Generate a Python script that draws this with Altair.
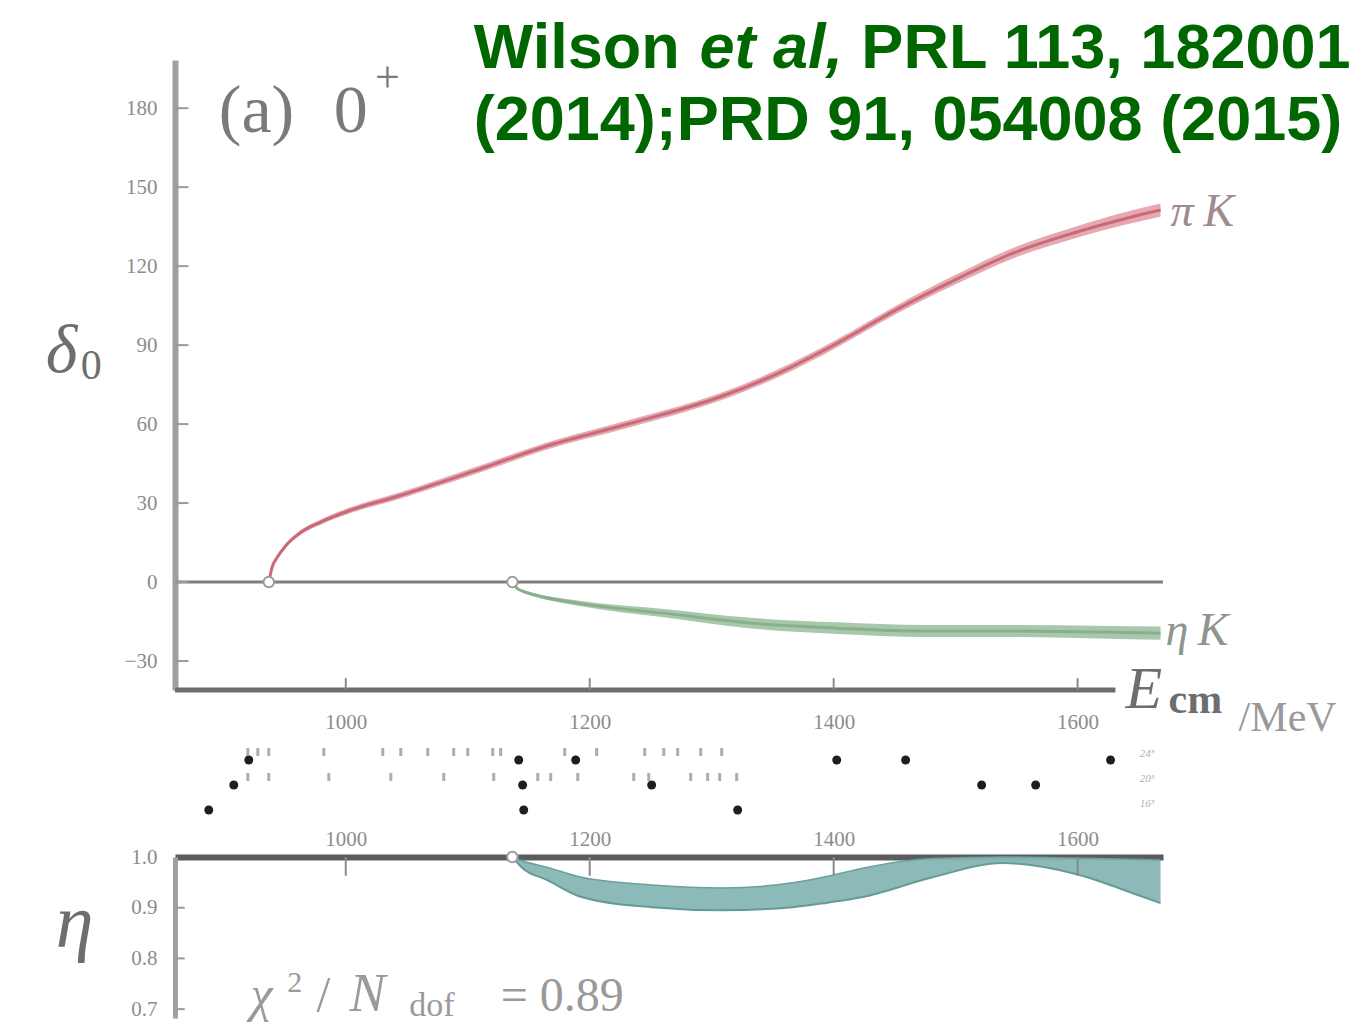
import altair as alt
import pandas as pd

# ---------------- data ----------------
# (a) 0+ : pi K phase shift band (degrees) vs E_cm (MeV)
pik_E = [936.9, 939.5, 944.0, 950.8, 962.0, 979.5, 1004.0, 1042.6, 1114.8, 1162.3, 1234.4,
         1306.6, 1354.9, 1403.3, 1450.8, 1499.2, 1547.5, 1595.9, 1643.4, 1668.0]
pik_delta = [0.0, 5.5, 9.5, 13.8, 18.5, 22.8, 27.3, 32.6, 43.7, 51.3, 60.4,
             70.3, 79.4, 90.8, 103.3, 114.7, 125.0, 132.5, 138.6, 141.3]
pik_err = [0.0, 0.5, 0.7, 0.8, 0.9, 1.0, 1.1, 1.2, 1.3, 1.3, 1.4, 1.4, 1.5, 1.5, 1.6, 1.8,
           2.0, 2.2, 2.4, 2.5]

# eta K phase shift band
etak_E = [1136.6, 1140.0, 1146.0, 1154.1, 1190.2, 1260.7, 1332.0, 1403.3, 1474.6, 1545.1,
          1616.4, 1668.0]
etak_delta = [0.0, -2.2, -3.6, -4.8, -8.0, -11.8, -15.6, -17.5, -18.6, -18.6, -19.0, -19.4]
etak_err = [0.0, 0.3, 0.5, 0.6, 1.0, 1.6, 2.0, 2.2, 2.3, 2.3, 2.4, 2.5]

# thresholds (pi K, eta K)
threshold_E = [936.9, 1136.6]

# inelasticity eta band
eta_E = [1136.6, 1145.0, 1164.8, 1193.4, 1250.8, 1309.0, 1366.4, 1395.0, 1423.8, 1481.1,
         1538.5, 1595.9, 1654.0, 1668.0]
eta_lo = [1.0, 0.978, 0.955, 0.921, 0.901, 0.895, 0.901, 0.910, 0.921, 0.960, 0.988, 0.968,
          0.921, 0.909]
eta_hi = [1.0, 0.992, 0.980, 0.960, 0.945, 0.939, 0.949, 0.962, 0.978, 0.997, 1.000, 0.998,
          0.995, 0.994]

# lattice energy levels used in the fit, one row per volume
volumes = ["24³", "20³", "16³"]
levels_24 = [920.5, 1141.8, 1188.5, 1402.5, 1459.0, 1627.0]
levels_20 = [908.2, 1145.0, 1250.8, 1521.3, 1565.6]
levels_16 = [887.7, 1145.9, 1321.3]
# non-interacting energies (small marks)
free_24 = [919.7, 927.9, 936.9, 982.0, 1030.3, 1045.1, 1067.2, 1088.5, 1100.0, 1120.5,
           1127.0, 1179.5, 1205.7, 1245.1, 1260.7, 1272.1, 1291.0, 1308.2]
free_20 = [919.7, 936.9, 986.1, 1036.9, 1080.3, 1121.3, 1157.4, 1168.0, 1190.2, 1236.1,
           1248.4, 1282.8, 1296.7, 1306.6, 1320.5]

x_ticks = [1000, 1200, 1400, 1600]
delta_ticks = [-30, 0, 30, 60, 90, 120, 150, 180]
eta_ticks = [0.7, 0.8, 0.9, 1.0]

# ---------------- layout ----------------
X_DOM = [860, 1670]
D_DOM = [-41, 198.3]
M_DOM = [-0.88, 5.8]
H_DOM = [0.6825, 1.0]
W, H_TOP, H_MID, H_BOT = 988, 630, 167, 161
X_LINE_END = 1631

SERIF = "Liberation Serif"
SANS = "Liberation Sans"
GREEN = "#006600"
LABEL_GRAY = "#8c8c8c"


def xscale():
    return alt.Scale(domain=X_DOM, nice=False, zero=False)


lab = dict(labelFont=SERIF, labelFontSize=21, labelColor=LABEL_GRAY, grid=False, title=None)
ax_top_x = alt.Axis(values=x_ticks, orient="bottom", domain=False, ticks=False,
                    labelPadding=21, format="d", **lab)
ax_top_y = alt.Axis(values=delta_ticks, orient="left", domain=True, domainColor="#a0a0a0",
                    domainWidth=6, ticks=False, labelPadding=18, format="d", **lab)
ax_bot_x = alt.Axis(values=x_ticks, orient="top", domain=True, domainColor="#5c5c5c",
                    domainWidth=6, ticks=False, labelPadding=8, format="d", **lab)
ax_bot_y = alt.Axis(values=eta_ticks, orient="left", domain=True, domainColor="#a0a0a0",
                    domainWidth=5, ticks=False, labelPadding=18, format=".1f", **lab)

D_SCALE = alt.Scale(domain=D_DOM, nice=False, zero=False)
XT = alt.X("E:Q", scale=xscale(), axis=ax_top_x)
YT = alt.Y("v:Q", scale=D_SCALE, axis=ax_top_y)
XM = alt.X("E:Q", scale=xscale(), axis=None)
YM = alt.Y("v:Q", scale=alt.Scale(domain=M_DOM, nice=False, zero=False), axis=None)
XB = alt.X("E:Q", scale=xscale(), axis=ax_bot_x)
YB = alt.Y("v:Q", scale=alt.Scale(domain=H_DOM, nice=False, zero=False), axis=ax_bot_y)


def texts(rows, X, Y, **kw):
    df = pd.DataFrame(rows, columns=["E", "v", "t"])
    base = dict(align="left", baseline="alphabetic")
    base.update(kw)
    return alt.Chart(df).mark_text(**base).encode(x=X, y=Y, text="t:N")


# ---------------- top panel ----------------
pik_df = pd.DataFrame({"E": pik_E, "c": pik_delta,
                       "v": [d - e for d, e in zip(pik_delta, pik_err)],
                       "v2": [d + e for d, e in zip(pik_delta, pik_err)]})
etak_df = pd.DataFrame({"E": etak_E, "c": etak_delta,
                        "v": [d - e for d, e in zip(etak_delta, etak_err)],
                        "v2": [d + e for d, e in zip(etak_delta, etak_err)]})

zero_line = alt.Chart(pd.DataFrame({"v": [0]})).mark_rule(
    color="#857d7d", strokeWidth=3).encode(y=YT)
pik_band = alt.Chart(pik_df).mark_area(color="#e6a9b1", opacity=1, interpolate="monotone").encode(
    x=XT, y=YT, y2="v2:Q")
pik_line = alt.Chart(pik_df).mark_line(color="#c96a77", strokeWidth=3, interpolate="monotone").encode(
    x=XT, y=alt.Y("c:Q", scale=D_SCALE, axis=ax_top_y))
etak_band = alt.Chart(etak_df).mark_area(color="#a9c8ab", opacity=1, interpolate="monotone").encode(
    x=XT, y=YT, y2="v2:Q")
etak_line = alt.Chart(etak_df).mark_line(color="#88b08d", strokeWidth=3, interpolate="monotone").encode(
    x=XT, y=alt.Y("c:Q", scale=D_SCALE, axis=ax_top_y))
thr = alt.Chart(pd.DataFrame({"E": threshold_E, "v": [0, 0]})).mark_circle(
    fill="white", stroke="#9c9c9c", strokeWidth=2, size=110, opacity=1).encode(x=XT, y=YT)

xline = alt.Chart(pd.DataFrame({"E": [X_DOM[0]], "E2": [X_LINE_END], "v": [D_DOM[0]]})).mark_rule(
    color="#6e6e6e", strokeWidth=5).encode(x=XT, x2="E2:Q", y=YT)
ytick_df = pd.DataFrame({"v": delta_ticks, "E": [X_DOM[0]] * len(delta_ticks),
                         "E2": [X_DOM[0] + 11] * len(delta_ticks)})
yticks_top = alt.Chart(ytick_df).mark_rule(color="#9a9a9a", strokeWidth=2).encode(
    x=XT, x2="E2:Q", y=YT)
xtick_df = pd.DataFrame({"E": x_ticks, "v": [D_DOM[0]] * 4, "v2": [D_DOM[0] + 4.5] * 4})
xticks_top = alt.Chart(xtick_df).mark_rule(color="#8a8a8a", strokeWidth=2).encode(
    x=XT, y=YT, y2="v2:Q")

title1a = texts([(1104.9, 195.2, "Wilson")], XT, YT, font=SANS, fontSize=63,
                fontWeight="bold", color=GREEN)
title1b = texts([(1290.0, 195.2, "et al,")], XT, YT, font=SANS, fontSize=63,
                fontWeight="bold", fontStyle="italic", color=GREEN)
title1c = texts([(1823.8, 195.2, "PRL 113, 182001")], XT, YT, font=SANS, fontSize=63,
                fontWeight="bold", color=GREEN, align="right")
title2 = texts([(1104.9, 167.9, "(2014);PRD 91, 054008 (2015)")], XT, YT, font=SANS,
               fontSize=63, fontWeight="bold", color=GREEN)

panel_a = texts([(895.9, 170.9, "(a)"), (990.2, 170.9, "0")], XT, YT, font=SERIF,
                fontSize=68, color="#7a7a7a")
panel_plus = texts([(1024.0, 186.0, "+")], XT, YT, font=SERIF, fontSize=44, color="#7a7a7a")
delta_lab = texts([(754.1, 79.8, "δ")], XT, YT, font=SERIF, fontSize=68,
                  fontStyle="italic", color="#6e6e6e")
delta_sub = texts([(782.8, 77.0, "0")], XT, YT, font=SERIF, fontSize=42, color="#6e6e6e")
pik_lab = texts([(1676.2, 135.2, "π"), (1703.3, 135.2, "K")], XT, YT, font=SERIF,
                fontSize=46, fontStyle="italic", color="#a08a8d")
etak_lab = texts([(1672.1, -23.9, "η"), (1698.4, -23.9, "K")], XT, YT, font=SERIF,
                 fontSize=46, fontStyle="italic", color="#8c968d")
ecm_E = texts([(1639.3, -47.9, "E")], XT, YT, font=SERIF, fontSize=60,
              fontStyle="italic", color="#6e6e6e")
ecm_cm = texts([(1674.6, -49.8, "cm")], XT, YT, font=SERIF, fontSize=42,
               fontWeight="bold", color="#6e6e6e")
ecm_unit = texts([(1732.0, -56.6, "/MeV")], XT, YT, font=SERIF, fontSize=42, color="#9a9a9a")

top = alt.layer(
    zero_line, pik_band, pik_line, etak_band, etak_line, thr, xline, yticks_top, xticks_top,
    title1a, title1b, title1c, title2, panel_a, panel_plus, delta_lab, delta_sub,
    pik_lab, etak_lab, ecm_E, ecm_cm, ecm_unit,
).properties(width=W, height=H_TOP)

# ---------------- middle strip: energy levels ----------------
row_y = [3.0, 2.0, 1.0]
lev_rows = []
for y, lv in zip(row_y, [levels_24, levels_20, levels_16]):
    lev_rows += [{"E": e, "v": y} for e in lv]
free_rows = [{"E": e, "v": row_y[0] + 0.32} for e in free_24] + \
            [{"E": e, "v": row_y[1] + 0.32} for e in free_20]

dots = alt.Chart(pd.DataFrame(lev_rows)).mark_circle(
    color="#1e1e1e", size=80, opacity=1).encode(x=XM, y=YM)
free_marks = alt.Chart(pd.DataFrame(free_rows)).mark_tick(
    orient="vertical", size=8, thickness=3, color="#8a8a8a").encode(x=XM, y=YM)
vol_lab = texts([(1651.0, y + 0.12, t) for y, t in zip(row_y, volumes)], XM, YM,
                font=SERIF, fontSize=11, fontStyle="italic", color="#b0b0b0")

middle = alt.layer(dots, free_marks, vol_lab).properties(width=W, height=H_MID)

# ---------------- bottom panel: inelasticity ----------------
eta_df = pd.DataFrame({"E": eta_E, "v": eta_lo, "v2": eta_hi})
eta_band = alt.Chart(eta_df).mark_area(color="#86b6b4", opacity=0.95, interpolate="monotone").encode(
    x=XB, y=YB, y2="v2:Q")
eta_lo_line = alt.Chart(eta_df).mark_line(color="#649b98", strokeWidth=2, interpolate="monotone").encode(
    x=XB, y=YB)
eta_hi_line = alt.Chart(pd.DataFrame({"E": eta_E, "v": eta_hi})).mark_line(
    color="#6c9f9d", strokeWidth=1.5, interpolate="monotone").encode(x=XB, y=YB)
thr_b = alt.Chart(pd.DataFrame({"E": [threshold_E[1]], "v": [1.0]})).mark_circle(
    fill="white", stroke="#9c9c9c", strokeWidth=2, size=110, opacity=1).encode(x=XB, y=YB)
xt_b = pd.DataFrame({"E": x_ticks, "v": [1.0] * 4, "v2": [0.963] * 4})
xticks_bot = alt.Chart(xt_b).mark_rule(color="#8a8a8a", strokeWidth=2).encode(
    x=XB, y=YB, y2="v2:Q")
yt_b = pd.DataFrame({"v": eta_ticks[:3], "E": [X_DOM[0]] * 3, "E2": [X_DOM[0] + 8] * 3})
yticks_bot = alt.Chart(yt_b).mark_rule(color="#9a9a9a", strokeWidth=2).encode(
    x=XB, x2="E2:Q", y=YB)

eta_lab = texts([(762.3, 0.8225, "η")], XB, YB, font=SERIF, fontSize=76,
                fontStyle="italic", color="#6e6e6e")
chi_a = texts([(922.0, 0.6963, "χ")], XB, YB, font=SERIF, fontSize=50,
              fontStyle="italic", color="#9a9a9a")
chi_b = texts([(952.0, 0.7337, "2")], XB, YB, font=SERIF, fontSize=30, color="#9a9a9a")
chi_c = texts([(976.0, 0.6963, "/")], XB, YB, font=SERIF, fontSize=50, color="#9a9a9a")
chi_d = texts([(1003.0, 0.6963, "N")], XB, YB, font=SERIF, fontSize=54,
              fontStyle="italic", color="#9a9a9a")
chi_e = texts([(1052.0, 0.6870, "dof")], XB, YB, font=SERIF, fontSize=34, color="#9a9a9a")
chi_f = texts([(1127.0, 0.6963, "= 0.89")], XB, YB, font=SERIF, fontSize=48, color="#9a9a9a")

bottom = alt.layer(
    eta_band, eta_lo_line, eta_hi_line, xticks_bot, yticks_bot, thr_b,
    eta_lab, chi_a, chi_b, chi_c, chi_d, chi_e, chi_f,
).properties(width=W, height=H_BOT)

chart = alt.vconcat(top, middle, bottom, spacing=0, bounds="flush").resolve_scale(
    x="independent", y="independent"
).properties(
    padding={"left": 37, "top": 10, "right": 0, "bottom": 0}
).configure(background="white").configure_view(stroke=None)

chart.save("out.html", embed_options={"renderer": "svg", "actions": False})
